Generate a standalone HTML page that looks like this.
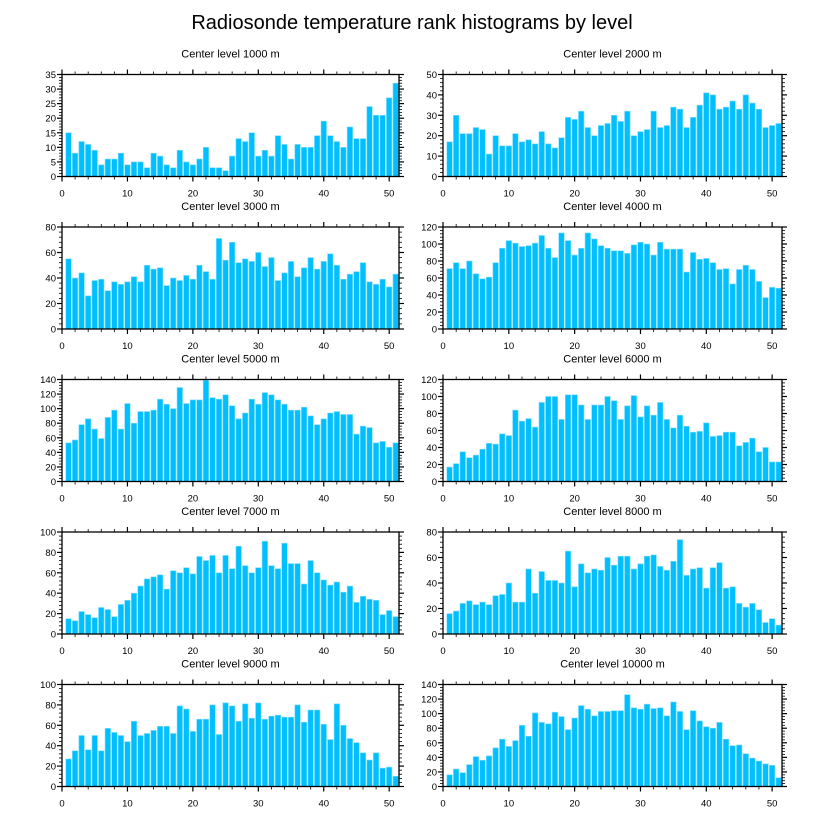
<!DOCTYPE html>
<html><head><meta charset="utf-8">
<style>
html,body{margin:0;padding:0;background:#fff;}
svg{display:block;font-family:"Liberation Sans",sans-serif;}
</style></head>
<body>
<svg id="chart" width="824" height="824" viewBox="0 0 824 824" xmlns="http://www.w3.org/2000/svg">
<text x="412" y="29" font-size="20" text-anchor="middle" fill="#000">Radiosonde temperature rank histograms by level</text>
</svg>
<script>
const levels = ["1000","2000","3000","4000","5000","6000","7000","8000","9000","10000"];
const yMax = [35,50,80,120,140,120,100,80,100,140];
const yStep = [5,10,20,20,20,20,20,20,20,20];
const xTicks = [0,10,20,30,40,50];
const h1000 = [15,8,12,11,9,4,6,6,8,4,5,5,3,8,7,4,3,9,5,4,6,10,3,3,2,7,13,12,15,7,9,7,14,11,6,11,10,10,14,19,14,12,10,17,13,13,24,21,21,27,32];
const h2000 = [17,30,21,21,24,23,11,20,15,15,21,17,18,16,22,16,14,19,29,28,32,24,20,25,26,30,27,32,20,22,23,32,24,25,34,33,24,29,35,41,40,33,34,37,33,40,36,33,24,25,26];
const h3000 = [55,40,44,26,38,39,30,37,35,37,41,37,50,47,48,34,40,38,42,39,50,45,39,71,54,68,52,55,53,60,49,56,38,44,53,41,48,56,47,53,59,50,39,43,45,52,37,35,39,33,43];
const h4000 = [71,78,71,80,65,59,61,78,95,104,101,97,98,101,110,95,84,113,104,87,95,113,106,98,95,92,92,89,99,102,100,87,102,94,94,94,67,90,82,83,78,70,71,53,70,75,70,56,37,49,48];
const h5000 = [53,57,78,86,72,59,88,98,72,107,80,96,96,98,113,106,100,129,107,112,112,139,115,113,119,104,86,94,113,106,122,119,112,106,98,98,102,90,78,86,94,96,92,92,65,76,74,53,55,47,53];
const h6000 = [17,21,35,28,31,38,45,44,56,54,84,71,74,64,93,100,100,73,102,102,90,73,90,90,100,95,73,89,101,76,89,78,93,73,63,78,65,58,59,69,53,54,58,58,42,46,51,35,40,23,23];
const h7000 = [15,13,22,19,16,26,24,17,29,33,40,47,54,56,58,44,62,60,65,59,76,72,77,60,77,64,86,67,60,65,91,67,64,89,69,69,49,72,60,53,48,51,41,47,31,37,34,33,19,23,17];
const h8000 = [16,18,24,26,23,25,23,30,31,40,25,25,51,32,49,42,42,40,65,37,55,48,51,50,60,54,61,61,51,55,61,62,53,50,57,74,46,51,52,36,52,56,36,37,24,21,24,19,9,12,7];
const h9000 = [27,35,50,36,50,35,57,53,50,44,64,50,52,55,59,59,52,79,76,54,66,66,80,51,82,79,64,81,67,82,66,69,70,68,68,80,63,75,75,61,46,81,60,47,43,33,26,33,18,19,10];
const h10000 = [16,24,19,30,41,36,42,53,65,55,63,84,69,101,88,86,102,96,78,94,111,106,97,103,103,104,104,126,108,106,113,107,108,97,116,103,78,104,90,82,80,88,65,56,57,45,39,35,31,29,12];
const series = [h1000,h2000,h3000,h4000,h5000,h6000,h7000,h8000,h9000,h10000];

const svg = document.getElementById('chart');
const NS = 'http://www.w3.org/2000/svg';
function mk(tag, attrs, parent){
  const e = document.createElementNS(NS, tag);
  for (const k in attrs) e.setAttribute(k, attrs[k]);
  parent.appendChild(e);
  return e;
}
const colX = [[62,399],[443,782]];
const rowTop = [74.5,227,379.5,532,684.5];
const plotH = 102;
const xMin = 0, xMaxV = 51.5;

series.forEach((vals, i) => {
  const col = i % 2, row = Math.floor(i / 2);
  const L = colX[col][0], R = colX[col][1];
  const T = rowTop[row], B = T + plotH;
  const sx = v => L + (v - xMin) / (xMaxV - xMin) * (R - L);
  const sy = v => B - v / yMax[i] * plotH;
  const g = mk('g', {}, svg);
  
  

  const t = mk('text', {x:(L+R)/2, y:T-17, 'font-size':11, 'text-anchor':'middle', fill:'#000'}, g);
  
  
  t.textContent = 'Center level ' + levels[i] + ' m';

  const bw = (sx(1) - sx(0)) * 0.84;
  vals.forEach((v, k) => {
    const x = sx(k + 1);
    const r = mk('rect', {x:x - bw/2, y:sy(v), width:bw, height:B - sy(v), fill:'#00bfff', stroke:'#7fdcff', 'stroke-width':0.6}, g);
    
    
  });

  const fr = mk('rect', {x:L, y:T, width:R-L, height:plotH, fill:'none', stroke:'#000', 'stroke-width':1.3}, g);
  
  

  for (let v = 0; v <= 51; v += 2) {
    const x = sx(v);
    const major = v % 10 === 0;
    const len = major ? 5 : 3;
    mk('line', {x1:x, y1:B, x2:x, y2:B+len, stroke:'#000', 'stroke-width':major?1.2:0.8}, g);
    mk('line', {x1:x, y1:T, x2:x, y2:T-len, stroke:'#000', 'stroke-width':major?1.2:0.8}, g);
  }
  xTicks.forEach(v => {
    const tl = mk('text', {x:sx(v), y:B+20, 'font-size':9.5, 'text-anchor':'middle', fill:'#000'}, g);
    
    
    tl.textContent = v;
  });
  const minor = yStep[i] / 5;
  for (let v = 0; v <= yMax[i] + 1e-9; v += minor) {
    const y = sy(v);
    const major = Math.abs(v / yStep[i] - Math.round(v / yStep[i])) < 1e-6;
    const len = major ? 5 : 3;
    mk('line', {x1:L, y1:y, x2:L-len, y2:y, stroke:'#000', 'stroke-width':major?1.2:0.8}, g);
    mk('line', {x1:R, y1:y, x2:R+len, y2:y, stroke:'#000', 'stroke-width':major?1.2:0.8}, g);
    if (major) {
      const yl = mk('text', {x:L-6, y:y+3.5, 'font-size':9.5, 'text-anchor':'end', fill:'#000'}, g);
      
      
      yl.textContent = Math.round(v);
    }
  }
});
</script>
</body></html>
